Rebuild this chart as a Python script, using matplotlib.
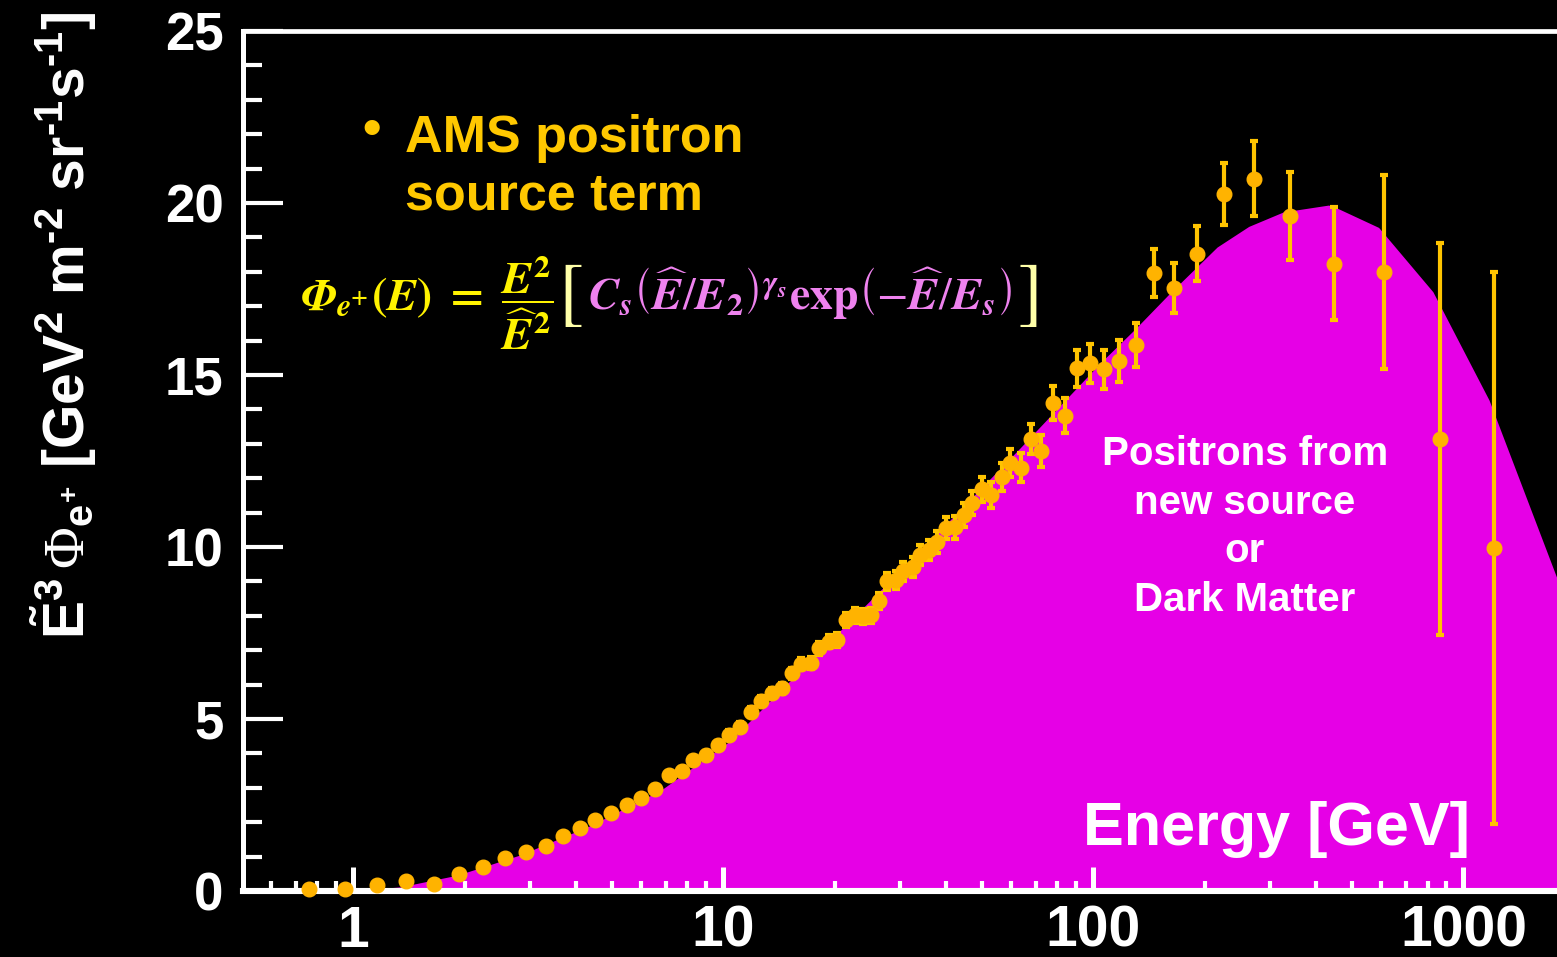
import numpy as np
import matplotlib
matplotlib.use("Agg")
import matplotlib.pyplot as plt
from matplotlib.ticker import LogLocator, MultipleLocator, FixedLocator, FixedFormatter, NullFormatter

# AMS positron flux scaled by E^3 [GeV^2 m^-2 sr^-1 s^-1]
energy = [0.76, 0.95, 1.16, 1.39, 1.65, 1.93, 2.24, 2.58, 2.94, 3.32,
          3.70, 4.09, 4.51, 4.97, 5.48, 5.99, 6.55, 7.12, 7.73, 8.31,
          8.98, 9.68, 10.38, 11.12, 11.90, 12.67, 13.54, 14.44, 15.34, 16.22,
          17.26, 18.18, 19.26, 20.33, 21.50, 22.64, 23.86, 25.12, 26.41, 27.70,
          29.35, 30.60, 32.48, 34.08, 35.89, 37.82, 40.00, 42.19, 44.62, 47.10,
          50.03, 53.01, 56.8, 59.7, 63.8, 68.0, 72.4, 77.8, 83.6, 90.3,
          97.7, 106.6, 117.6, 130.5, 145.6, 165.5, 190.7, 225.0, 272.3, 340.8,
          446.1, 611.8, 866.6, 1213.0]
flux = [0.07, 0.07, 0.17, 0.30, 0.21, 0.50, 0.71, 0.97, 1.13, 1.32,
        1.60, 1.82, 2.06, 2.26, 2.50, 2.70, 2.97, 3.37, 3.50, 3.81,
        3.95, 4.24, 4.54, 4.77, 5.21, 5.52, 5.76, 5.89, 6.33, 6.61,
        6.63, 7.05, 7.25, 7.30, 7.88, 8.02, 7.98, 8.01, 8.43, 9.00,
        9.03, 9.29, 9.42, 9.77, 9.91, 10.15, 10.54, 10.57, 10.93, 11.27,
        11.68, 11.51, 12.03, 12.45, 12.31, 13.14, 12.80, 14.18, 13.82, 15.19,
        15.34, 15.16, 15.40, 15.87, 17.97, 17.54, 18.52, 20.25, 20.71, 19.61,
        18.24, 17.98, 13.14, 9.97]
flux_err = [0.02, 0.02, 0.03, 0.03, 0.04, 0.04, 0.05, 0.05, 0.06, 0.06,
            0.07, 0.07, 0.08, 0.08, 0.09, 0.09, 0.10, 0.10, 0.11, 0.11,
            0.12, 0.12, 0.13, 0.13, 0.14, 0.14, 0.15, 0.15, 0.16, 0.17,
            0.17, 0.18, 0.19, 0.20, 0.21, 0.22, 0.22, 0.23, 0.24, 0.25,
            0.26, 0.27, 0.28, 0.29, 0.30, 0.31, 0.32, 0.33, 0.34, 0.35,
            0.36, 0.38, 0.40, 0.41, 0.42, 0.44, 0.47, 0.49, 0.50, 0.55,
            0.57, 0.58, 0.61, 0.64, 0.70, 0.73, 0.80, 0.90, 1.08, 1.28,
            1.63, 2.82, 5.70, 8.02]

# source term fit
curve_energy = [0.98, 1.34, 1.91, 2.83, 4.37, 6.76, 10.43, 19.46, 36.3, 63.4,
                104.4, 130.0, 160.0, 216.0, 263.0, 326.0, 432.0, 456.0, 590.0,
                827.0, 1173.0, 1800.0]
curve_flux = [0.0, 0.12, 0.46, 1.05, 1.90, 2.92, 4.36, 7.28, 10.2, 12.88,
              15.35, 16.35, 17.35, 18.72, 19.32, 19.74, 19.94, 19.85, 19.29,
              17.42, 14.27, 9.02]

x_ticks = [1, 10, 100, 1000]
x_ticklabels = ["1", "10", "100", "1000"]

W, H = 1557, 957
plt.rcParams["mathtext.fontset"] = "custom"
plt.rcParams["mathtext.rm"] = "Liberation Sans:bold"
plt.rcParams["mathtext.it"] = "Liberation Sans:bold"
plt.rcParams["mathtext.bf"] = "Liberation Sans:bold"
plt.rcParams["mathtext.sf"] = "Liberation Serif"

fig = plt.figure(figsize=(W / 100, H / 100), dpi=100, facecolor="black")
ax = fig.add_axes([243 / W, 1 - 891 / H, 1 - 243 / W, (891 - 31) / H])
ax.set_facecolor("black")

ax.fill_between(curve_energy, 0, curve_flux, color="#E600E6", lw=0, zorder=1)
ax.errorbar(energy, flux, yerr=flux_err, fmt="o", ms=10.5, mfc="#FFB300", mec="#FFB300",
            ecolor="#FFC400", elinewidth=3, capsize=3, capthick=3, zorder=4, clip_on=False)

ax.set_xscale("log")
ax.set_xlim(0.504, 1790)
ax.set_ylim(0, 25)

for side in ["left", "top", "bottom"]:
    ax.spines[side].set_color("white")
ax.spines["left"].set_linewidth(3.6)
ax.spines["top"].set_linewidth(3.4)
ax.spines["bottom"].set_linewidth(4.4)
ax.spines["right"].set_visible(False)

ax.yaxis.set_major_locator(MultipleLocator(5))
ax.yaxis.set_minor_locator(MultipleLocator(1))
ax.tick_params(axis="y", which="major", direction="in", length=29, width=3, color="white",
               labelcolor="white", labelsize=38, pad=14)
ax.tick_params(axis="y", which="minor", direction="in", length=14, width=3, color="white")
ax.xaxis.set_major_locator(FixedLocator(x_ticks))
ax.xaxis.set_major_formatter(FixedFormatter(x_ticklabels))
ax.xaxis.set_minor_locator(LogLocator(base=10, subs=np.arange(2, 10)))
ax.xaxis.set_minor_formatter(NullFormatter())
ax.tick_params(axis="x", which="major", direction="in", length=17, width=3.6, color="white",
               labelcolor="white", labelsize=41, pad=10)
ax.tick_params(axis="x", which="minor", direction="in", length=7.5, width=3, color="white")
for lab in ax.get_xticklabels() + ax.get_yticklabels():
    lab.set_fontfamily("Liberation Sans")
    lab.set_fontweight("bold")

fig.text(64 / W, 1 - 325 / H,
         "$\\tilde{E}^{3}\\,\\mathsf{\\Phi}_{e^{+}}$ [GeV$^{2}$ m$^{\u20102}$ sr$^{\u20101}$s$^{\u20101}$]",
         rotation=90, ha="center", va="center", color="white", fontsize=41,
         fontfamily="Liberation Sans", fontweight="bold")

# legend-like caption
fig.text(372 / W, 1 - 131 / H, "\u2022", color="#FFC800", fontsize=38,
         ha="center", va="center", fontfamily="Liberation Sans", fontweight="bold")
fig.text(405 / W, 1 - 210 / H, "AMS positron\nsource term", color="#FFC800", fontsize=37.5,
         ha="left", va="baseline", fontfamily="Liberation Sans", fontweight="bold",
         linespacing=1.24)

fig.text(1245 / W, 1 - 527 / H, "Positrons from\nnew source\nor\nDark Matter",
         color="white", fontsize=29, ha="center", va="center", fontfamily="Liberation Sans",
         fontweight="bold", linespacing=1.36)
fig.text(1470 / W, 1 - 845 / H, "Energy [GeV]", color="white", fontsize=44, ha="right",
         va="baseline", fontfamily="Liberation Sans", fontweight="bold")

# source term formula, drawn piece by piece for the colours
renderer = fig.canvas.get_renderer()
formula = [
    (r"$\mathbfit{\Phi}_{\mathbfit{e}^{\mathbf{+}}}\mathbf{(}\mathbfit{E}\mathbf{)}\ \mathbf{=}\ "
     r"\dfrac{\mathbfit{E}^{\mathbf{2}}}{\widehat{\mathbfit{E}}^{\mathbf{2}}}$", "#FFF200", 33, "math"),
    ("[", "#FFFFA8", 54, "bracket"),
    (r"$\mathbfit{C}_{\mathbfit{s}}\left(\widehat{\mathbfit{E}}/\mathbfit{E}_{\mathbf{2}}\right)"
     r"^{\mathbfit{\gamma}_{\mathbfit{s}}}\mathbf{exp}\left(-\widehat{\mathbfit{E}}/\mathbfit{E}_{\mathbfit{s}}\right)$",
     "#EE82EE", 33, "math"),
    ("]", "#FFFFA8", 54, "bracket"),
]
x = 300
base = H - 310
for s, col, size, kind in formula:
    if kind == "math":
        t = fig.text(x / W, base / H, s, color=col, fontsize=size, math_fontfamily="stix",
                     ha="left", va="baseline")
    else:
        t = fig.text(x / W, (base + 12) / H, s, color=col, fontsize=size, fontfamily="STIXGeneral",
                     ha="left", va="center")
    x = t.get_window_extent(renderer).x1 + 5

fig.savefig("out.png", dpi=100, facecolor="black")
